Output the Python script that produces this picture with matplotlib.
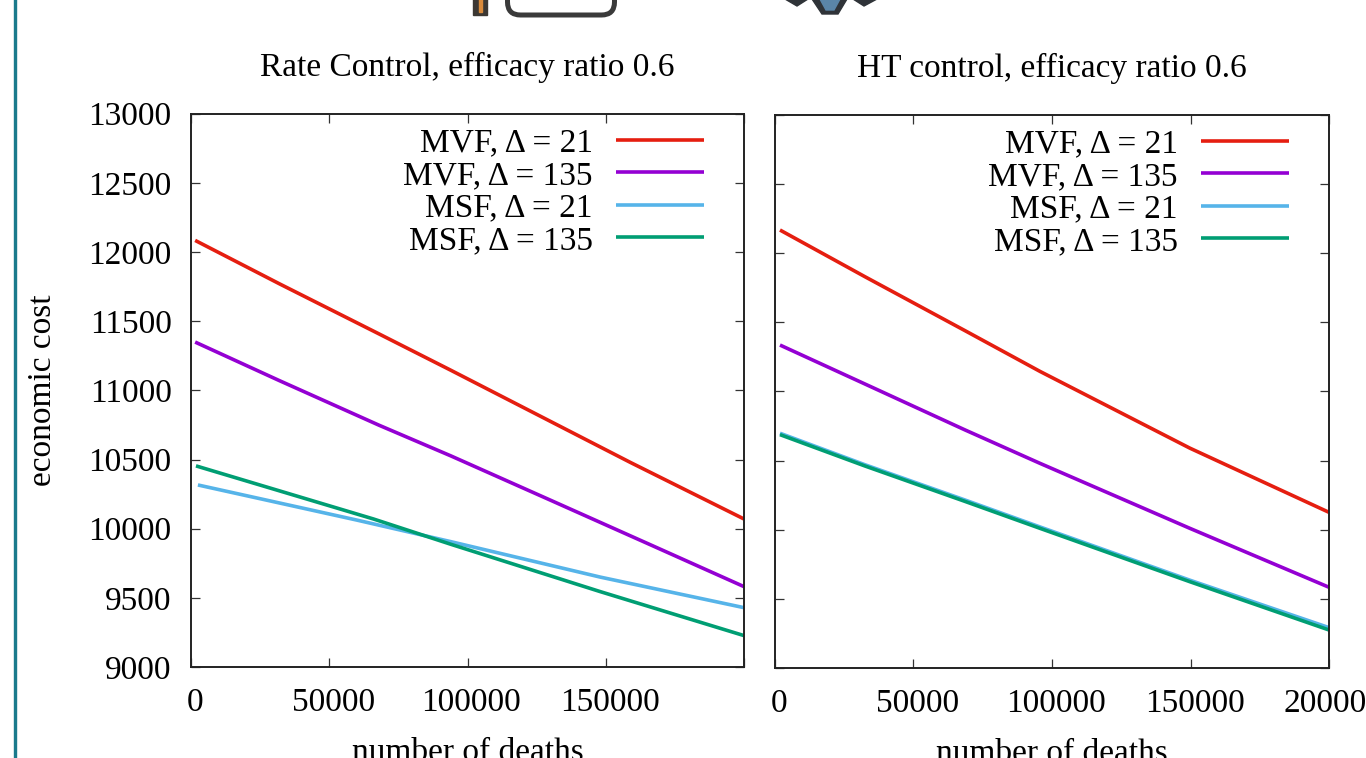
import matplotlib
matplotlib.use("Agg")
import matplotlib.pyplot as plt
from matplotlib.patches import FancyBboxPatch, Polygon, Rectangle
from matplotlib.transforms import ScaledTranslation

plt.rcParams['font.family'] = ['Liberation Serif', 'DejaVu Serif']

# Rate control panel
rc_red_x = [1500, 32000, 68000, 94000, 159000, 200000]
rc_red_y = [12084, 11770, 11408, 11145, 10478, 10070]
rc_purple_x = [1500, 32000, 68000, 94000, 130000, 166000, 200000]
rc_purple_y = [11349, 11070, 10748, 10526, 10206, 9885, 9581]
rc_blue_x = [2500, 60000, 94000, 148000, 200000]
rc_blue_y = [10316, 10062, 9906, 9650, 9429]
rc_green_x = [1800, 66000, 94000, 148000, 200000]
rc_green_y = [10454, 10070, 9887, 9545, 9227]

# HT control panel
ht_red_x = [1800, 32500, 68600, 95700, 149800, 200000]
ht_red_y = [12168, 11830, 11440, 11145, 10590, 10126]
ht_purple_x = [1800, 32500, 68600, 95700, 149800, 200000]
ht_purple_y = [11336, 11054, 10722, 10480, 10010, 9584]
ht_blue_x = [1800, 32500, 68600, 95700, 149800, 200000]
ht_blue_y = [10698, 10470, 10215, 10020, 9635, 9292]
ht_green_x = [1800, 32500, 68600, 95700, 149800, 200000]
ht_green_y = [10688, 10461, 10205, 10010, 9624, 9275]

labels = ["MVF, Δ = 21", "MVF, Δ = 135", "MSF, Δ = 21", "MSF, Δ = 135"]
colors = ["#e51e10", "#9400d3", "#56b4e9", "#009e73"]
x_ticks = [0, 50000, 100000, 150000, 200000]
y_ticks = [9000, 9500, 10000, 10500, 11000, 11500, 12000, 12500, 13000]

W, H = 1366, 758
fig = plt.figure(figsize=(W / 100, H / 100), dpi=100)

# page furniture around the chart, in pixel coordinates
bg = fig.add_axes([0, 0, 1, 1])
bg.set_xlim(0, W)
bg.set_ylim(H, 0)
bg.axis("off")
bg.add_patch(Rectangle((13.5, -2), 2.5, H + 4, color="#1a7a8c"))
bg.add_patch(FancyBboxPatch((507.5, -30), 107, 45, boxstyle="round,pad=0,rounding_size=13",
                            fill=False, ec="#3a3a3a", lw=3.6, mutation_aspect=1))
bg.add_patch(Rectangle((473, -2), 14, 17, color="#3c3833"))
bg.add_patch(Rectangle((478.5, -2), 3, 14, color="#d98a3a"))
bg.add_patch(Polygon([(785, -1), (797, 6), (808, -1)], color="#2f3338"))
bg.add_patch(Polygon([(812, -1), (822, 14), (838, 14), (847, -1)], color="#2f3338"))
bg.add_patch(Polygon([(820, -1), (826, 10), (834, 10), (840, -1)], color="#5a85a8"))
bg.add_patch(Polygon([(853, -1), (864, 6), (877, -1)], color="#2f3338"))


def draw_panel(rect, title, series, xlabels, show_y):
    ax = fig.add_axes(rect)
    ax.patch.set_alpha(0)
    for (x, y), label, color in zip(series, labels, colors):
        ax.plot(x, y, color=color, lw=2.6, label=label, solid_capstyle="butt")
    ax.set_xlim(0, 200000)
    ax.set_ylim(9000, 13000)
    ax.set_xticks(x_ticks)
    ax.set_xticklabels(xlabels)
    ax.set_yticks(y_ticks)
    ax.tick_params(axis="both", direction="in", length=6.5, width=0.9, color="#333333",
                   top=True, right=True, labelsize=24, labelleft=show_y)
    ax.tick_params(axis="x", pad=15)
    ax.tick_params(axis="y", pad=14)
    # gnuplot puts the x labels a little to the right of the tick
    for t in ax.get_xticklabels():
        t.set_transform(t.get_transform() + ScaledTranslation(0.04, 0, fig.dpi_scale_trans))
    for s in ax.spines.values():
        s.set_linewidth(1.4)
        s.set_color("#222222")
    ax.set_title(title, fontsize=24, pad=27)
    ax.set_xlabel("number of deaths", fontsize=24, labelpad=14)
    ax.legend(loc="upper right", bbox_to_anchor=(0.9277, 0.9745), frameon=False, markerfirst=False,
              fontsize=24, labelspacing=0.06, handlelength=2.64, handletextpad=0.7,
              borderpad=0, borderaxespad=0)
    return ax


left = draw_panel([191 / W, 1 - 667 / H, 553 / W, 553.3 / H], "Rate Control, efficacy ratio 0.6",
                  [(rc_red_x, rc_red_y), (rc_purple_x, rc_purple_y),
                   (rc_blue_x, rc_blue_y), (rc_green_x, rc_green_y)],
                  ["0", "50000", "100000", "150000", ""], True)
left.set_ylabel("economic cost", fontsize=24, labelpad=22)

right = draw_panel([775 / W, 1 - 668 / H, 554 / W, 553 / H], "HT control, efficacy ratio 0.6",
                   [(ht_red_x, ht_red_y), (ht_purple_x, ht_purple_y),
                    (ht_blue_x, ht_blue_y), (ht_green_x, ht_green_y)],
                   ["0", "50000", "100000", "150000", "200000"], False)

fig.savefig("out.png", dpi=100)
